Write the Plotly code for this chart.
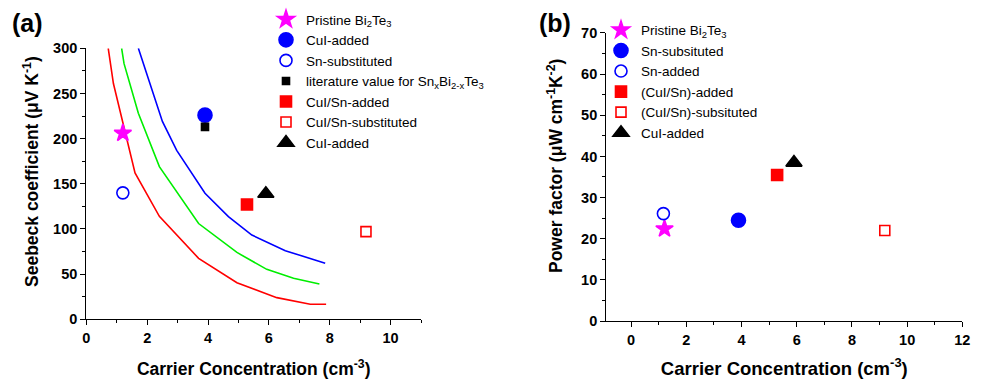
import plotly.graph_objects as go

# ---- Panel (a): Seebeck coefficient vs carrier concentration ----
curve_red_x = [0.72, 0.89, 1.60, 2.40, 3.69, 4.95, 6.26, 7.36, 7.88]
curve_red_y = [300, 261, 162, 114, 67.5, 40.5, 24, 16.6, 16.6]
curve_green_x = [1.16, 1.24, 1.71, 2.40, 3.69, 4.95, 5.93, 6.81, 7.66]
curve_green_y = [300, 283, 228, 169, 106, 74, 55.3, 45.4, 39]
curve_blue_x = [1.71, 1.99, 2.50, 2.97, 3.90, 4.67, 5.44, 6.54, 7.85]
curve_blue_y = [300, 272, 219, 187, 139.5, 113.6, 93.3, 76, 62]

a_names = ["Pristine Bi<sub>2</sub>Te<sub>3</sub>", "CuI-added", "Sn-substituted",
           "literature value for Sn<sub>x</sub>Bi<sub>2-x</sub>Te<sub>3</sub>",
           "CuI/Sn-added", "CuI/Sn-substituted", "CuI-added"]
a_x = [1.2, 3.9, 1.2, 3.9, 5.28, 9.19, 5.9]
a_y = [206, 226, 140, 213, 127, 97, 139]

# ---- Panel (b): power factor vs carrier concentration ----
b_names = ["Pristine Bi<sub>2</sub>Te<sub>3</sub>", "Sn-subsituted", "Sn-added",
           "(CuI/Sn)-added", "(CuI/Sn)-subsituted", "CuI-added"]
b_x = [1.21, 3.89, 1.17, 5.29, 9.19, 5.9]
b_y = [22.4, 24.5, 26.1, 35.5, 22.0, 38.5]

# marker styles: (symbol, color, size)
a_styles = [("star", "#ff00ff", 13), ("circle", "#0000ff", 14), ("circle-open", "#0000ff", 12),
            ("square", "#000000", 7), ("square", "#ff0000", 11), ("square-open", "#ff0000", 10),
            ("triangle-up", "#000000", 14)]
b_styles = [("star", "#ff00ff", 13), ("circle", "#0000ff", 14), ("circle-open", "#0000ff", 12),
            ("square", "#ff0000", 11), ("square-open", "#ff0000", 10), ("triangle-up", "#000000", 14)]

FONT = "Liberation Sans, Arial, sans-serif"
fig = go.Figure()

for cx, cy, col in [(curve_red_x, curve_red_y, "#ff0000"),
                    (curve_green_x, curve_green_y, "#00ee00"),
                    (curve_blue_x, curve_blue_y, "#0000ff")]:
    fig.add_trace(go.Scatter(x=cx, y=cy, mode="lines", line=dict(color=col, width=1.6),
                             showlegend=False, xaxis="x", yaxis="y"))

for name, x, y, (sym, col, sz) in zip(a_names, a_x, a_y, a_styles):
    fig.add_trace(go.Scatter(x=[x], y=[y], mode="markers", name=name,
                             marker=dict(symbol=sym, color=col, size=sz,
                                         line=dict(width=1.6, color=col)),
                             xaxis="x", yaxis="y", legend="legend"))

for name, x, y, (sym, col, sz) in zip(b_names, b_x, b_y, b_styles):
    fig.add_trace(go.Scatter(x=[x], y=[y], mode="markers", name=name,
                             marker=dict(symbol=sym, color=col, size=sz,
                                         line=dict(width=1.6, color=col)),
                             xaxis="x2", yaxis="y2", legend="legend2"))

tickfont = dict(family=FONT, size=14.5, color="black", weight="bold")
minor_style = dict(ticks="outside", ticklen=3, tickcolor="black", tickwidth=1.2)
axis_common = dict(showline=True, linecolor="black", linewidth=1.2, ticks="outside",
                   ticklen=5, tickwidth=1.2, tickcolor="black", showgrid=False,
                   zeroline=False, tickfont=tickfont, mirror=False, automargin=False)

fig.update_layout(
    width=981, height=379, margin=dict(l=0, r=0, t=0, b=0),
    paper_bgcolor="white", plot_bgcolor="white",
    xaxis=dict(domain=[0.0880, 0.4292], range=[0, 11], dtick=2, anchor="y",
               minor=dict(dtick=1, **minor_style),
               title=dict(text="Carrier Concentration (cm<sup>-3</sup>)", standoff=24,
                          font=dict(family=FONT, size=17.5, color="black", weight="bold")),
               **axis_common),
    yaxis=dict(domain=[0.1575, 0.8726], range=[0, 300], dtick=50, anchor="x",
               minor=dict(dtick=25, **minor_style), **axis_common),
    xaxis2=dict(domain=[0.6180, 0.9810], range=[-0.9, 12], dtick=2, anchor="y2",
                minor=dict(dtick=1, **minor_style),
                title=dict(text="Carrier Concentration (cm<sup>-3</sup>)", standoff=21,
                           font=dict(family=FONT, size=18.5, color="black", weight="bold")),
                **axis_common),
    yaxis2=dict(domain=[0.1530, 0.9130], range=[0, 70], dtick=10, anchor="x2",
                minor=dict(dtick=5, **minor_style), **axis_common),
    legend=dict(x=266 / 981, y=1 - 4 / 379, xanchor="left", yanchor="top",
                font=dict(family=FONT, size=13.5, color="black"),
                bgcolor="rgba(0,0,0,0)", tracegroupgap=0, itemsizing="trace"),
    legend2=dict(x=601 / 981, y=0.985 - 9 / 379, xanchor="left", yanchor="top",
                 font=dict(family=FONT, size=13.5, color="black"),
                 bgcolor="rgba(0,0,0,0)", tracegroupgap=0, itemsizing="trace"),
)

# vertical axis titles
ytitle_font = dict(family=FONT, size=17.5, color="black", weight="bold")
fig.add_annotation(text="Seebeck coefficient (μV K<sup>-1</sup>)", textangle=-90,
                   x=31 / 981, y=1 - 172 / 379, xref="paper", yref="paper",
                   xanchor="center", yanchor="middle", showarrow=False, font=ytitle_font)
fig.add_annotation(text="Power factor (μW cm<sup>-1</sup>K<sup>-2</sup>)", textangle=-90,
                   x=555 / 981, y=1 - 166 / 379, xref="paper", yref="paper",
                   xanchor="center", yanchor="middle", showarrow=False, font=ytitle_font)

# panel labels
fig.add_annotation(text="<b>(a)</b>", x=10 / 981, y=1 - 23 / 379, xref="paper", yref="paper",
                   xanchor="left", yanchor="middle", showarrow=False,
                   font=dict(family=FONT, size=25, color="black"))
fig.add_annotation(text="<b>(b)</b>", x=537 / 981, y=1 - 23 / 379, xref="paper", yref="paper",
                   xanchor="left", yanchor="middle", showarrow=False,
                   font=dict(family=FONT, size=25, color="black"))

fig.write_html("out.html")
